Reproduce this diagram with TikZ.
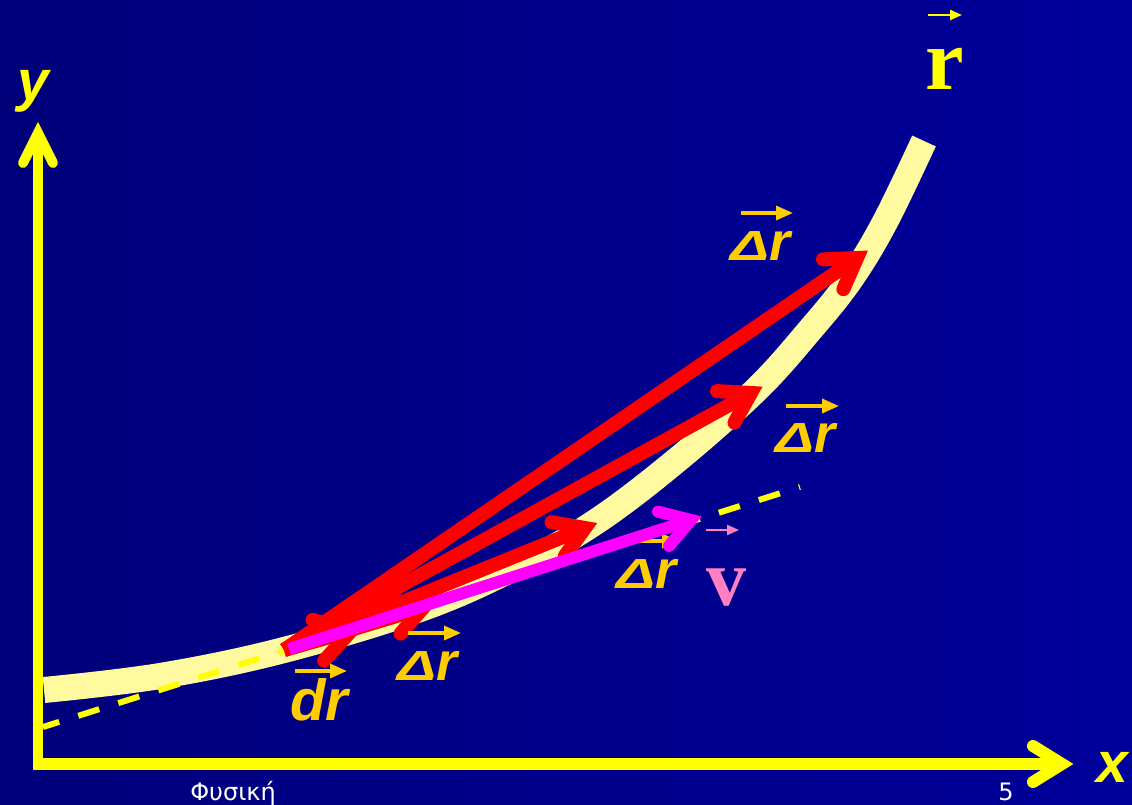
\documentclass[tikz,border=0pt]{standalone}
\usepackage{fontspec}
\usepackage{graphicx}
\setmainfont{Liberation Serif}
\setsansfont{Liberation Sans}
\newfontfamily\footfont{DejaVu Sans}
\usetikzlibrary{calc,arrows.meta}
\definecolor{bgL}{RGB}{0,0,122}
\definecolor{bgR}{RGB}{0,0,155}
\definecolor{curvecol}{RGB}{255,250,160}
\definecolor{gold}{RGB}{255,204,0}
\definecolor{vpink}{RGB}{255,128,192}
\definecolor{vred}{RGB}{255,0,0}
\definecolor{vmag}{RGB}{255,0,255}
\definecolor{axyellow}{RGB}{255,255,0}
\newcommand\Dlt{\scalebox{1.08}[0.78]{Δ}}
\begin{document}
\begin{tikzpicture}[x=1pt,y=-1pt,
  axis/.style={axyellow, line width=#1},
  axhead/.style={axyellow, line width=#1, line cap=round, line join=miter},
  trajectory/.style={curvecol, line width=26pt},
  tangent/.style={axyellow, line width=6pt, dash pattern=on 22pt off 20pt, dash phase=5pt},
  redvec/.style={vred, line width=14pt},
  redhead/.style={vred, line width=14pt, line cap=round, line join=miter},
  magvec/.style={vmag, line width=12pt},
  maghead/.style={vmag, line width=12pt, line cap=round, line join=miter},
  lbl/.style={gold, font=\sffamily\bfseries\itshape\fontsize{54}{54}\selectfont, inner sep=0pt, anchor=base west},
  lblarrow/.style={gold, line width=3.5pt, -{Triangle[length=17pt,width=14pt]}},
  axlbl/.style={axyellow, font=\sffamily\bfseries\itshape\fontsize{57}{57}\selectfont, inner sep=0pt, anchor=base},
  biglbl/.style={font=\rmfamily\bfseries\fontsize{#1}{#1}\selectfont, inner sep=0pt, anchor=base},
  smallarrow/.style={line width=2.5pt, -{Triangle[length=12pt,width=10pt]}},
  foot/.style={white, font=\footfont\fontsize{24}{24}\selectfont, inner sep=0pt, anchor=base}
]
\useasboundingbox (0,0) rectangle (1132,805);
\shade[left color=bgL, right color=bgR] (0,0) rectangle (1132,805);

% trajectory
\draw[trajectory] plot[smooth, tension=0.6] coordinates {(44,690) (160,676) (284,650) (423,608) (520,565) (597,521) (677,460) (757,389) (810,330) (850,280) (885,222) (924,141)};

% tangent
\coordinate (tA) at (43,727);
\coordinate (tB) at (800,487);
\draw[tangent] (tA) -- (tB);

% axes
\coordinate (yb) at (38,770);
\coordinate (yt) at (38,133);
\coordinate (xl) at (38,764);
\coordinate (xt) at (1062,764);
\draw[axis=10pt] (yb) -- (yt);
\draw[axhead=10pt] ($(yt)+(-15,30)$) -- (yt) -- ($(yt)+(15,30)$);
\draw[axis=12pt] (xl) -- (xt);
\draw[axhead=12pt] ($(xt)+(-29,-18)$) -- (xt) -- ($(xt)+(-29,18)$);
\node[axlbl] (ylab) at (33,101) {y};
\node[axlbl] (xlab) at (1112,782) {x};

% position vector label
\node[biglbl=87, axyellow] (rlab) at (945,90) {r};
\draw[smallarrow, axyellow] ([shift={(-17,-75)}]rlab.base) -- ([shift={(17,-75)}]rlab.base);

% red displacement vectors
\coordinate (S) at (284,650);
\coordinate (T1) at (857,258);
\coordinate (T2) at (751,393);
\coordinate (T3) at (585,528);
\coordinate (T4) at (423,608);
\coordinate (Td) at (351,631);
\draw[redvec] (S) -- (T1);
\draw[redhead] ($(T1)!34pt!32:(S)$) -- (T1) -- ($(T1)!34pt!-32:(S)$);
\draw[redvec] (S) -- (T2);
\draw[redhead] ($(T2)!34pt!32:(S)$) -- (T2) -- ($(T2)!34pt!-32:(S)$);
\draw[redvec] (S) -- (T3);
\draw[redhead] ($(T3)!34pt!32:(S)$) -- (T3) -- ($(T3)!34pt!-32:(S)$);
\draw[redvec] (S) -- (T4);
\draw[redhead] ($(T4)!34pt!32:(S)$) -- (T4) -- ($(T4)!34pt!-32:(S)$);
\draw[redvec] (S) -- (Td);
\draw[redhead] ($(Td)!40pt!32:(S)$) -- (Td) -- ($(Td)!40pt!-32:(S)$);

% labels
\node[lbl] (d1) at (730,260) {\Dlt r};
\draw[lblarrow] ([shift={(11,-47)}]d1.base west) -- ([shift={(63,-47)}]d1.base west);
\node[lbl] (d2) at (775,452) {\Dlt r};
\draw[lblarrow] ([shift={(11,-46)}]d2.base west) -- ([shift={(64,-46)}]d2.base west);
\node[lbl] (d3) at (616,588) {\Dlt r};
\draw[lblarrow] ([shift={(11,-47)}]d3.base west) -- ([shift={(63,-47)}]d3.base west);
\node[lbl] (d4) at (397,680) {\Dlt r};
\draw[lblarrow] ([shift={(11,-47)}]d4.base west) -- ([shift={(64,-47)}]d4.base west);
\node[lbl, font=\sffamily\bfseries\itshape\fontsize{58}{58}\selectfont] (dl) at (290,720) {dr};
\draw[lblarrow] ([shift={(5,-49)}]dl.base west) -- ([shift={(57,-49)}]dl.base west);

% velocity
\coordinate (Sm) at (289,649);
\coordinate (Tm) at (691,520);
\draw[magvec] (Sm) -- (Tm);
\draw[maghead] ($(Tm)!34pt!32:(Sm)$) -- (Tm) -- ($(Tm)!34pt!-32:(Sm)$);
\node[biglbl=80, vpink] (vlab) at (726,605) {v};
\draw[smallarrow, vpink, line width=2pt] ([shift={(-20,-75)}]vlab.base) -- ([shift={(13,-75)}]vlab.base);

% footer
\node[foot] (fname) at (233,800) {Φυσική};
\node[foot] (pnum) at (1006,800) {5};
\end{tikzpicture}
\end{document}
